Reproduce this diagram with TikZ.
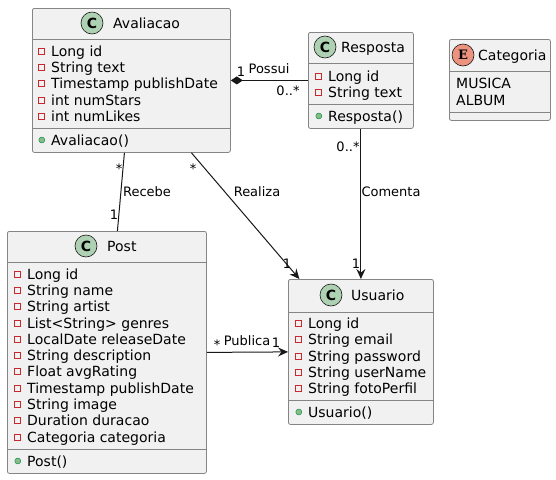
\documentclass[tikz,border=0pt]{standalone}
\usepackage{fontspec}
\setmainfont{DejaVu Sans}
\newfontfamily\enumfont{DejaVu Serif}
\usetikzlibrary{arrows.meta}
\definecolor{boxfill}{HTML}{F1F1F1}
\definecolor{boxline}{HTML}{858585}
\definecolor{linecol}{HTML}{181818}
\definecolor{classgreen}{HTML}{ADD1B2}
\definecolor{enumred}{HTML}{EB937F}
\definecolor{privred}{HTML}{C82930}
\definecolor{pubgreen}{HTML}{84BE84}
\definecolor{publine}{HTML}{038048}
\tikzset{
  classbox/.style = {draw = boxline, fill = boxfill, rounded corners = 2pt, line width = .8pt, anchor = north west, inner sep = 0},
  sepline/.style = {draw = boxline, line width = .8pt},
  title/.style = {anchor = west, inner sep = 0, text height = 10.2pt, text depth = 0pt, font = \fontsize{14}{16}\selectfont},
  member/.style = {anchor = west, inner sep = 0, text height = 10.2pt, text depth = 0pt, font = \fontsize{14}{16}\selectfont},
  priv/.style = {member, label = {[draw = privred, line width = .7pt, minimum size = 6pt, inner sep = 0, label distance = 6pt]left:{}}},
  pub/.style = {member, label = {[circle, fill = pubgreen, draw = publine, line width = .4pt, minimum size = 6pt, inner sep = 0, label distance = 6pt]left:{}}},
  cicon/.style = {circle, draw = linecol, line width = .6pt, fill = classgreen, minimum size = 22pt, inner sep = 0, font = \fontsize{14}{16}\selectfont\bfseries},
  eicon/.style = {cicon, fill = enumred, font = \enumfont\fontsize{13}{15}\selectfont\bfseries},
  lbl/.style = {inner sep = 0, text height = 9.5pt, text depth = 0pt, font = \fontsize{13}{15}\selectfont},
  assoc/.style = {draw = linecol, line width = 1pt},
  tip/.style = {-{Stealth[length = 10pt, width = 9pt, inset = 3.5pt]}}
}
\begin{document}
\begin{tikzpicture}[x = 1pt, y = -1pt]
\useasboundingbox (0,0) rectangle (556,479);

% Avaliacao
\node[classbox, minimum width = 198pt, minimum height = 144pt] (aval) at (32,8) {};
\draw[sepline] (32,39) -- (230,39);
\draw[sepline] (32,128) -- (230,128);
\node[cicon] (avalC) at (92,23) {C};
\node[title] (avalT) at (113,23) {Avaliacao};
\node[priv] (aval1) at (51,51) {Long id};
\node[priv] (aval2) at (51,67) {String text};
\node[priv] (aval3) at (51,83.5) {Timestamp publishDate};
\node[priv] (aval4) at (51,100) {int numStars};
\node[priv] (aval5) at (51,116) {int numLikes};
\node[pub] (aval6) at (51,140) {Avaliacao()};

% Resposta
\node[classbox, minimum width = 105pt, minimum height = 96pt] (resp) at (308,32) {};
\draw[sepline] (308,63) -- (413,63);
\draw[sepline] (308,104) -- (413,104);
\node[cicon] (respC) at (325,47) {C};
\node[title] (respT) at (341,47) {Resposta};
\node[priv] (resp1) at (328,76) {Long id};
\node[priv] (resp2) at (328,92) {String text};
\node[pub] (resp3) at (328,116) {Resposta()};

% Categoria
\node[classbox, minimum width = 101pt, minimum height = 81pt] (cat) at (449,39) {};
\draw[sepline] (449,71) -- (550,71);
\draw[sepline] (449,112) -- (550,112);
\node[eicon] (catE) at (463,55) {E};
\node[title] (catT) at (478,55) {Categoria};
\node[member] (cat1) at (456,83) {MUSICA};
\node[member] (cat2) at (456,100) {ALBUM};

% Post
\node[classbox, minimum width = 199pt, minimum height = 242pt] (post) at (7,231) {};
\draw[sepline] (7,262) -- (206,262);
\draw[sepline] (7,449) -- (206,449);
\node[cicon] (postC) at (86,246) {C};
\node[title] (postT) at (107,246) {Post};
\node[priv] (post1) at (27,274) {Long id};
\node[priv] (post2) at (27,290.3) {String name};
\node[priv] (post3) at (27,306.6) {String artist};
\node[priv] (post4) at (27,323) {List<String> genres};
\node[priv] (post5) at (27,339.2) {LocalDate releaseDate};
\node[priv] (post6) at (27,355.5) {String description};
\node[priv] (post7) at (27,371.8) {Float avgRating};
\node[priv] (post8) at (27,388) {Timestamp publishDate};
\node[priv] (post9) at (27,404.4) {String image};
\node[priv] (post10) at (27,420.7) {Duration duracao};
\node[priv] (post11) at (27,437) {Categoria categoria};
\node[pub] (post12) at (27,461) {Post()};

% Usuario
\node[classbox, minimum width = 145pt, minimum height = 145pt] (usr) at (288,279) {};
\draw[sepline] (288,312) -- (433,312);
\draw[sepline] (288,400) -- (433,400);
\node[cicon] (usrC) at (331,295) {C};
\node[title] (usrT) at (351,295) {Usuario};
\node[priv] (usr1) at (308,323) {Long id};
\node[priv] (usr2) at (308,339) {String email};
\node[priv] (usr3) at (308,356) {String password};
\node[priv] (usr4) at (308,372) {String userName};
\node[priv] (usr5) at (308,388) {String fotoPerfil};
\node[pub] (usr6) at (308,412) {Usuario()};

% relations
\draw[assoc, {Diamond[length = 12pt, width = 8pt]}-] (aval.east) -- (resp.west);
\draw[assoc] ([xshift = -7pt]aval.south) -- ([xshift = 10.5pt]post.north);
\draw[assoc, tip] ([xshift = 60pt]aval.south) -- ([xshift = -61.5pt]usr.north);
\draw[assoc, tip] (resp.south) -- (usr.north);
\draw[assoc, tip] (post.east) -- (usr.west);

% labels
\node[lbl] (possuiA) at (241,72) {1};
\node[lbl] (possui) at (269,69) {Possui};
\node[lbl] (possuiB) at (288,91) {0..*};
\node[lbl] (recebeA) at (119,169) {*};
\node[lbl] (recebe) at (147,192) {Recebe};
\node[lbl] (recebeB) at (114,215) {1};
\node[lbl] (realizaA) at (193,169) {*};
\node[lbl] (realiza) at (257,192) {Realiza};
\node[lbl] (realizaB) at (287,264) {1};
\node[lbl] (comentaA) at (348,147) {0..*};
\node[lbl] (comenta) at (391,192) {Comenta};
\node[lbl] (comentaB) at (356,264) {1};
\node[lbl] (publicaA) at (217,345) {*};
\node[lbl] (publica) at (247,341) {Publica};
\node[lbl] (publicaB) at (276,343) {1};
\end{tikzpicture}
\end{document}
